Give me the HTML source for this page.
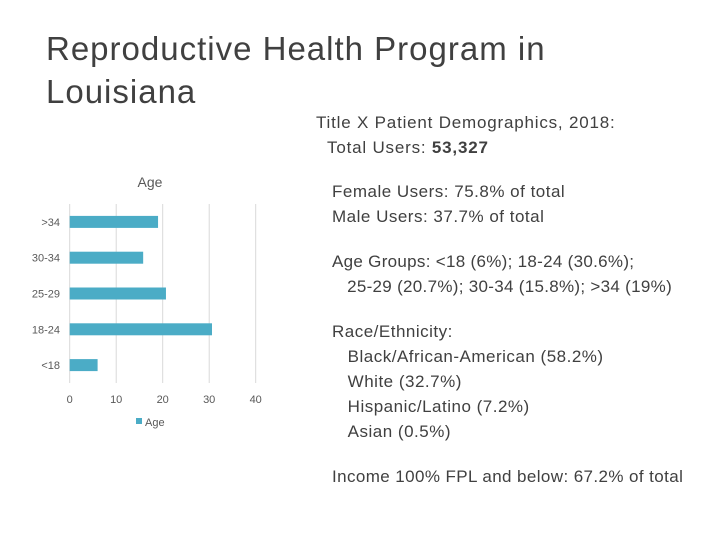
<!DOCTYPE html>
<html><head><meta charset="utf-8"><style>
body{margin:0;width:720px;height:540px;background:#fff;font-family:"Liberation Sans",sans-serif;color:#333;position:relative;overflow:hidden}
.t{position:absolute;white-space:nowrap}
</style></head><body>
<div class="t" style="left:46px;top:27px;font-size:33px;line-height:43px;color:#404040;letter-spacing:1px">Reproductive Health Program in<br>Louisiana</div>
<div class="t" style="left:316px;top:110px;font-size:17px;line-height:25px;color:#404040;letter-spacing:0.8px">Title X Patient Demographics, 2018:<br>&nbsp;&nbsp;Total Users: <b>53,327</b></div>
<div class="t" style="left:332px;top:179px;font-size:17px;line-height:25px;color:#404040;letter-spacing:0.5px">Female Users: 75.8% of total<br>Male Users: 37.7% of total</div>
<div class="t" style="left:332px;top:249px;font-size:17px;line-height:25px;color:#404040;letter-spacing:0.3px">Age Groups: &lt;18 (6%); 18-24 (30.6%);<br>&nbsp;&nbsp;&nbsp;25-29 (20.7%); 30-34 (15.8%); &gt;34 (19%)</div>
<div class="t" style="left:332px;top:319px;font-size:17px;line-height:25px;color:#404040;letter-spacing:0.5px">Race/Ethnicity:<br>&nbsp;&nbsp;&nbsp;Black/African-American (58.2%)<br>&nbsp;&nbsp;&nbsp;White (32.7%)<br>&nbsp;&nbsp;&nbsp;Hispanic/Latino (7.2%)<br>&nbsp;&nbsp;&nbsp;Asian (0.5%)</div>
<div class="t" style="left:332px;top:464px;font-size:17px;line-height:25px;color:#404040;letter-spacing:0.4px">Income 100% FPL and below: 67.2% of total</div>
<svg id="chart" width="720" height="540" style="position:absolute;left:0;top:0"></svg>
<script>
const categories=[">34","30-34","25-29","18-24","<18"];
const values=[19,15.8,20.7,30.6,6];
const ticks=[0,10,20,30,40];
const svg=document.getElementById('chart');
const NS='http://www.w3.org/2000/svg';
const px0=69.7,px1=255.7,pTop=204,pBot=383;
const xs=v=>px0+(v-0)/(40-0)*(px1-px0);
const band=(pBot-pTop)/categories.length;
function mk(t,a,txt){const e=document.createElementNS(NS,t);for(const k in a)e.setAttribute(k,a[k]);if(txt!=null)e.textContent=txt;svg.appendChild(e);return e;}
let e=mk('text',{x:150,y:187,'text-anchor':'middle','font-size':14,fill:'#595959','font-family':'Liberation Sans'},'Age');


ticks.forEach(t=>{
 let g=mk('line',{x1:xs(t),x2:xs(t),y1:pTop,y2:pBot,stroke:'#d9d9d9','stroke-width':1});
 
 
 let l=mk('text',{x:xs(t),y:403,'text-anchor':'middle','font-size':11,fill:'#595959','font-family':'Liberation Sans'},t);
 
 
});
categories.forEach((c,i)=>{
 const cy=pTop+band*(i+0.5);
 let r=mk('rect',{x:xs(0),y:cy-6,width:xs(values[i])-xs(0),height:12,fill:'#4bacc6'});
 
 
 let l=mk('text',{x:60,y:cy+4,'text-anchor':'end','font-size':11,fill:'#595959','font-family':'Liberation Sans'},c);
 
 
});
let s=mk('rect',{x:136,y:418,width:6,height:6,fill:'#4bacc6'});


let lt=mk('text',{x:145,y:426,'font-size':11,fill:'#595959','font-family':'Liberation Sans'},'Age');


</script>
</body></html>
